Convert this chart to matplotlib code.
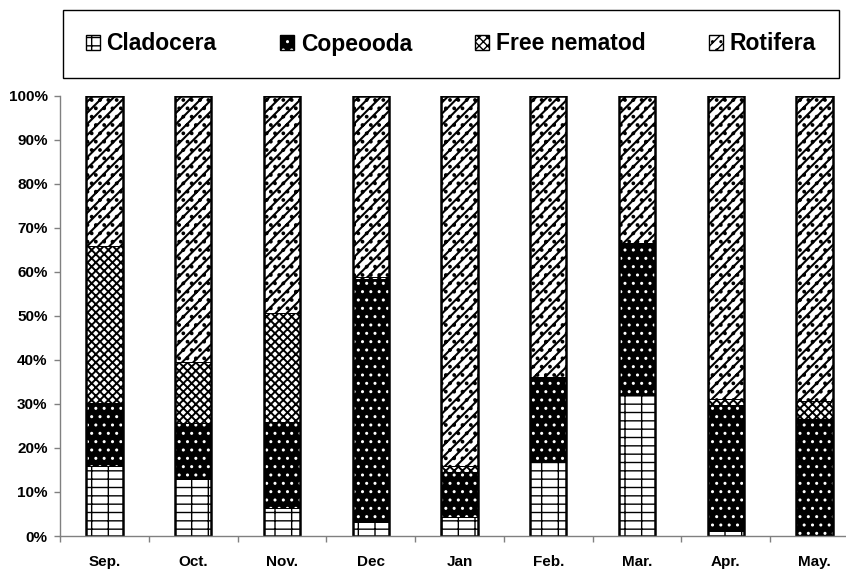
import matplotlib
matplotlib.use("Agg")
import matplotlib.pyplot as plt
from matplotlib.patches import Patch
from matplotlib.legend_handler import HandlerTuple
from matplotlib import font_manager
import numpy as np

months = ["Sep.", "Oct.", "Nov.", "Dec", "Jan", "Feb.", "Mar.", "Apr.", "May."]
cladocera = [15.9, 12.9, 6.4, 3.2, 4.2, 17.0, 32.0, 1.2, 0.0]
copeooda = [14.3, 12.85, 19.5, 55.1, 10.4, 18.8, 34.4, 28.6, 26.5]
nematod = [35.7, 13.85, 24.8, 0.5, 1.3, 0.4, 0.1, 1.3, 4.25]
rotifera = [34.1, 60.4, 49.3, 41.2, 84.1, 63.8, 33.5, 68.9, 69.25]

names = ["Cladocera", "Copeooda", "Free nematod", "Rotifera"]
# face colour, hatch, hatch colour, hatch width
styles = [
    ("white", "--|", "black", 1.0),
    ("black", "..", "white", 1.0),
    ("white", "xxxx", "black", 1.4),
    ("white", "///..", "black", 1.5),
]

plt.rcParams["font.family"] = ["Liberation Sans", "DejaVu Sans"]
plt.rcParams["font.weight"] = "bold"

fig = plt.figure(figsize=(8.46, 5.76), dpi=100)
ax = fig.add_axes([60 / 846, 40 / 576, 799 / 846, 440.5 / 576])

x = np.arange(len(months))
w = 0.41
bottom = np.zeros(len(months))
handles = []
for vals, (fc, h, hc, hw), name in zip([cladocera, copeooda, nematod, rotifera], styles, names):
    vals = np.array(vals)
    with plt.rc_context({"hatch.linewidth": hw}):
        ax.bar(x, vals, w, bottom=bottom, color=fc, hatch=h, edgecolor=hc, linewidth=0)
        hp = Patch(facecolor=fc, hatch=h, edgecolor=hc, linewidth=0)
    ax.bar(x, vals, w, bottom=bottom, fill=False, edgecolor="black", linewidth=0.7)
    bottom += vals
    handles.append((hp, Patch(fill=False, edgecolor="black", linewidth=1)))

ax.bar(x, bottom, w, fill=False, edgecolor="black", linewidth=1.8)

ax.set_xlim(-0.5, 8.5)
ax.set_ylim(0, 100)
ax.set_yticks(np.arange(0, 101, 10))
ax.set_yticklabels([f"{v}%" for v in range(0, 101, 10)])
ax.set_xticks(x)
ax.set_xticklabels(months)
ax.set_xticks(np.arange(-0.5, 9, 1), minor=True)
ax.tick_params(axis="x", which="major", length=0, pad=14, labelsize=11)
ax.tick_params(axis="x", which="minor", length=4, color="#808080", width=1)
ax.tick_params(axis="y", length=4, color="#808080", width=1, pad=5, labelsize=11)
for s in ["top", "right"]:
    ax.spines[s].set_visible(False)
for s in ["left", "bottom"]:
    ax.spines[s].set_color("#808080")
    ax.spines[s].set_linewidth(1)

names_avail = {f.name for f in font_manager.fontManager.ttflist}
leg_family = ["Liberation Sans Narrow"] if "Liberation Sans Narrow" in names_avail else ["Liberation Sans"]
leg_size = 21 if "Liberation Sans Narrow" in names_avail else 16.5

leg = fig.legend(handles, names, handler_map={tuple: HandlerTuple(ndivide=1)},
                 ncol=4, mode="expand", loc="center",
                 bbox_to_anchor=(63 / 846, 1 - 78 / 576, 776 / 846, 68 / 576),
                 prop={"family": leg_family, "size": leg_size, "weight": "bold"},
                 handlelength=0.6, handleheight=0.6, handletextpad=0.3,
                 borderpad=1.0, borderaxespad=0, fancybox=False,
                 edgecolor="black", framealpha=1)
leg.get_frame().set_linewidth(1)

fig.savefig("out.png", dpi=100)
